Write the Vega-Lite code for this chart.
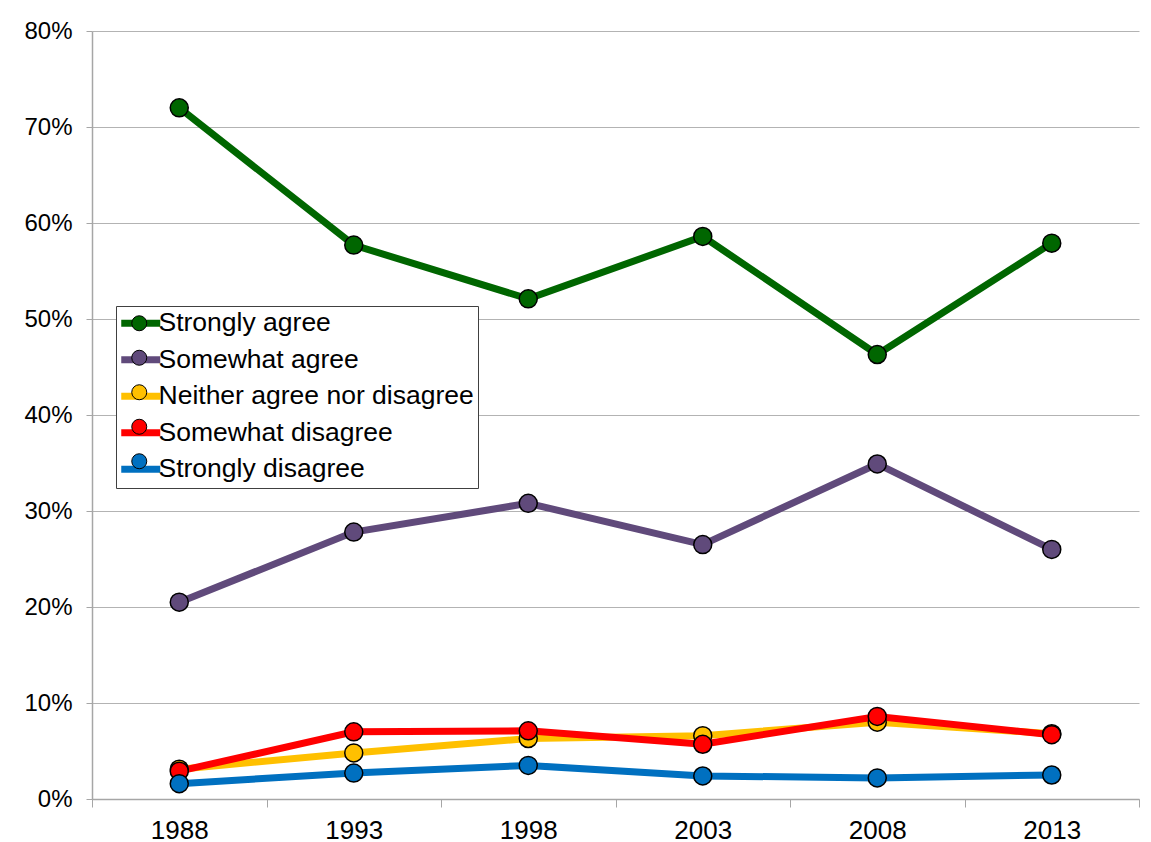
{
  "$schema": "https://vega.github.io/schema/vega-lite/v6.json",
  "width": 1047,
  "height": 768,
  "autosize": {"type": "none"},
  "padding": {"left": 92, "top": 31, "right": 12, "bottom": 43},
  "background": "white",
  "config": {
    "font": "Liberation Sans",
    "view": {"stroke": null}
  },
  "data": {
    "values": [
      {"year": "1988", "series": "Strongly agree", "value": 0.720},
      {"year": "1993", "series": "Strongly agree", "value": 0.577},
      {"year": "1998", "series": "Strongly agree", "value": 0.521},
      {"year": "2003", "series": "Strongly agree", "value": 0.586},
      {"year": "2008", "series": "Strongly agree", "value": 0.463},
      {"year": "2013", "series": "Strongly agree", "value": 0.579},
      {"year": "1988", "series": "Somewhat agree", "value": 0.205},
      {"year": "1993", "series": "Somewhat agree", "value": 0.278},
      {"year": "1998", "series": "Somewhat agree", "value": 0.308},
      {"year": "2003", "series": "Somewhat agree", "value": 0.265},
      {"year": "2008", "series": "Somewhat agree", "value": 0.349},
      {"year": "2013", "series": "Somewhat agree", "value": 0.260},
      {"year": "1988", "series": "Neither agree nor disagree", "value": 0.031},
      {"year": "1993", "series": "Neither agree nor disagree", "value": 0.048},
      {"year": "1998", "series": "Neither agree nor disagree", "value": 0.063},
      {"year": "2003", "series": "Neither agree nor disagree", "value": 0.066},
      {"year": "2008", "series": "Neither agree nor disagree", "value": 0.080},
      {"year": "2013", "series": "Neither agree nor disagree", "value": 0.068},
      {"year": "1988", "series": "Somewhat disagree", "value": 0.029},
      {"year": "1993", "series": "Somewhat disagree", "value": 0.070},
      {"year": "1998", "series": "Somewhat disagree", "value": 0.071},
      {"year": "2003", "series": "Somewhat disagree", "value": 0.057},
      {"year": "2008", "series": "Somewhat disagree", "value": 0.086},
      {"year": "2013", "series": "Somewhat disagree", "value": 0.067},
      {"year": "1988", "series": "Strongly disagree", "value": 0.016},
      {"year": "1993", "series": "Strongly disagree", "value": 0.027},
      {"year": "1998", "series": "Strongly disagree", "value": 0.035},
      {"year": "2003", "series": "Strongly disagree", "value": 0.024},
      {"year": "2008", "series": "Strongly disagree", "value": 0.022},
      {"year": "2013", "series": "Strongly disagree", "value": 0.025}
    ]
  },
  "encoding": {
    "x": {
      "field": "year",
      "type": "ordinal",
      "title": null,
      "scale": {"paddingInner": 0, "paddingOuter": 0},
      "axis": {
        "labelAngle": 0,
        "labelFontSize": 26,
        "labelColor": "black",
        "labelPadding": 10,
        "tickBand": "extent",
        "tickSize": 8,
        "tickColor": "#a6a6a6",
        "domainColor": "#a6a6a6",
        "domainWidth": 1.5,
        "grid": false
      }
    },
    "y": {
      "field": "value",
      "type": "quantitative",
      "title": null,
      "scale": {"domain": [0, 0.8], "nice": false},
      "axis": {
        "values": [0, 0.1, 0.2, 0.3, 0.4, 0.5, 0.6, 0.7, 0.8],
        "format": ".0%",
        "labelFontSize": 24,
        "labelColor": "black",
        "labelPadding": 14,
        "tickSize": 6,
        "tickColor": "#a6a6a6",
        "domainColor": "#a6a6a6",
        "domainWidth": 1.5,
        "gridColor": "#b3b3b3",
        "gridWidth": 1.2
      }
    }
  },
  "layer": [
    {
      "mark": {"type": "line", "strokeWidth": 7},
      "encoding": {
        "stroke": {
          "field": "series",
          "type": "nominal",
          "sort": ["Strongly agree", "Somewhat agree", "Neither agree nor disagree", "Somewhat disagree", "Strongly disagree"],
          "scale": {"range": ["#006600", "#604A7B", "#FFC000", "#FF0000", "#0070C0"]},
          "legend": {
            "title": null,
            "orient": "none",
            "legendX": 24,
            "legendY": 275,
            "symbolType": "M-1.6,0H3.6",
            "symbolSize": 225,
            "symbolStrokeWidth": 7,
            "symbolFillColor": "transparent",
            "labelFontSize": 26.5,
            "labelColor": "black",
            "labelLimit": 500,
            "labelOffset": 12,
            "rowPadding": 7.5,
            "padding": 4,
            "strokeColor": "#404040",
            "fillColor": "white"
          }
        }
      }
    },
    {
      "mark": {"type": "point", "filled": true, "size": 324, "stroke": "black", "strokeWidth": 1.5, "opacity": 1, "shape": "circle"},
      "encoding": {
        "fill": {
          "field": "series",
          "type": "nominal",
          "scale": {
            "domain": ["Strongly agree", "Somewhat agree", "Neither agree nor disagree", "Somewhat disagree", "Strongly disagree"],
            "range": ["#006600", "#604A7B", "#FFC000", "#FF0000", "#0070C0"]
          },
          "legend": {
            "title": null,
            "orient": "none",
            "legendX": 30,
            "legendY": 275,
            "symbolType": "circle",
            "symbolSize": 225,
            "symbolStrokeColor": "black",
            "symbolStrokeWidth": 1,
            "labelFontSize": 26.5,
            "labelOpacity": 0,
            "labelLimit": 500,
            "labelOffset": 12,
            "rowPadding": 7.5,
            "padding": 4
          }
        }
      }
    }
  ]
}
